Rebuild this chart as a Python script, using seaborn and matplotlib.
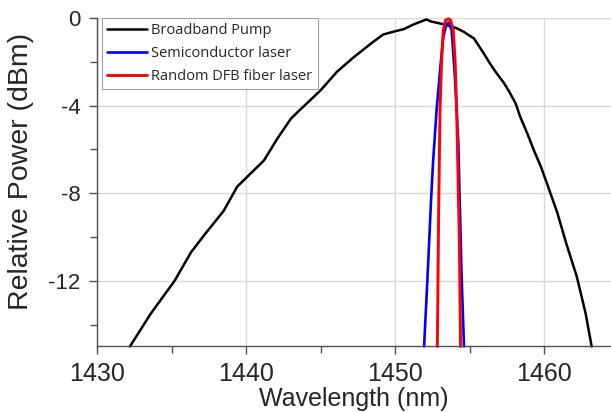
import pandas as pd
import matplotlib
matplotlib.use("Agg")
import matplotlib.pyplot as plt
import seaborn as sns
from matplotlib.ticker import MultipleLocator

# values
pump_wl = [1432.2, 1433.6, 1435.2, 1436.3, 1437.2, 1438.5, 1439.4, 1440.3, 1441.2, 1442.1,
           1443.0, 1443.6, 1445.0, 1446.1, 1447.2, 1448.5, 1449.2, 1450.0, 1450.6,
           1451.2, 1452.1, 1452.4, 1453.0, 1453.5, 1454.1, 1454.6, 1455.3, 1455.9, 1456.4,
           1456.8, 1457.3, 1457.7, 1458.1, 1458.4, 1458.9, 1459.3, 1459.8, 1460.2, 1460.9,
           1461.5, 1462.2, 1462.8, 1463.2]
pump_p = [-15.0, -13.5, -12.0, -10.7, -9.9, -8.8, -7.7, -7.1, -6.5, -5.5,
          -4.6, -4.2, -3.3, -2.45, -1.8, -1.1, -0.75, -0.6, -0.5,
          -0.3, -0.06, -0.15, -0.24, -0.32, -0.45, -0.62, -0.93, -1.55, -2.1,
          -2.5, -2.95, -3.4, -3.9, -4.5, -5.3, -6.0, -6.8, -7.55, -8.9,
          -10.3, -11.8, -13.5, -15.0]

semi_wl = [1451.95, 1452.17, 1452.42, 1452.56, 1452.79, 1453.02, 1453.24, 1453.47, 1453.6,
           1453.8, 1454.02, 1454.25, 1454.36, 1454.47, 1454.63]
semi_p = [-15.0, -12.0, -8.3, -6.5, -4.2, -2.4, -0.85, -0.24, -0.2,
          -0.55, -2.7, -5.7, -8.8, -11.8, -15.0]

dfb_wl = [1452.84, 1452.93, 1453.02, 1453.13, 1453.24, 1453.40, 1453.58, 1453.73, 1453.91,
          1454.03, 1454.14, 1454.32, 1454.40]
dfb_p = [-15.0, -8.8, -4.2, -1.9, -0.55, -0.09, -0.03, -0.09, -0.55,
         -1.9, -4.2, -10.3, -15.0]

x_ticks = [1430, 1440, 1450, 1460]
y_ticks = [-12, -8, -4, 0]

sns.set_style("ticks")
plt.rcParams['font.family'] = ['Liberation Sans', 'DejaVu Sans']
plt.rcParams['axes.unicode_minus'] = False

fig = plt.figure(figsize=(6.11, 4.12), dpi=100)
ax = fig.add_axes([0.159, 0.159, 0.841, 0.797])

sns.lineplot(x=pump_wl, y=pump_p, ax=ax, color='black', lw=1.8, sort=False,
             label='Broadband Pump', clip_on=False)
sns.lineplot(x=semi_wl, y=semi_p, ax=ax, color='#0000ff', lw=1.9, sort=False,
             label='Semiconductor laser', clip_on=False)
sns.lineplot(x=dfb_wl, y=dfb_p, ax=ax, color='#ff0000', lw=2.1, sort=False,
             label='Random DFB fiber laser', clip_on=False)

ax.set_xlim(1430, 1464.5)
ax.set_ylim(-15, 0)
ax.set_xticks(x_ticks)
ax.set_yticks(y_ticks)
ax.xaxis.set_minor_locator(MultipleLocator(5))
ax.yaxis.set_minor_locator(MultipleLocator(2))
ax.grid(True, which='major', color='#d9d9d9', lw=1.0)
ax.set_axisbelow(True)

for s in ['top', 'right']:
    ax.spines[s].set_visible(False)
for s in ['left', 'bottom']:
    ax.spines[s].set_color('#505050')
    ax.spines[s].set_linewidth(1.0)

ax.tick_params(axis='x', which='major', direction='out', length=6, width=1,
               color='#505050', labelsize=18, pad=5)
ax.tick_params(axis='y', which='major', direction='out', length=6, width=1,
               color='#505050', labelsize=16, pad=6)
ax.tick_params(which='minor', direction='out', length=5, width=1, color='#505050')

ax.set_xlabel('Wavelength (nm)', fontsize=18, labelpad=1)
ax.set_ylabel('Relative Power (dBm)', fontsize=20.5)
ax.yaxis.set_label_coords(-0.123, 0.534)

leg = ax.legend(loc='upper left', bbox_to_anchor=(0.009, 1.0), borderaxespad=0,
                frameon=True, fancybox=False, framealpha=1, edgecolor='#a0a0a0',
                prop={'family': 'Open Sans', 'size': 10.5}, handlelength=2.75,
                handletextpad=0.3, borderpad=0.35, labelspacing=0.53)
leg.get_frame().set_linewidth(0.8)

fig.savefig('out.png', dpi=100)
